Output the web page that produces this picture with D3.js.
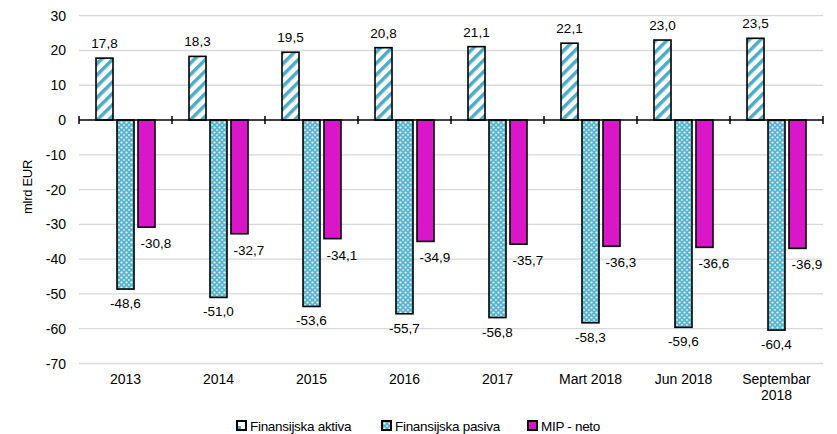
<!DOCTYPE html>
<html>
<head>
<meta charset="utf-8">
<script src="https://cdn.jsdelivr.net/npm/d3@7"></script>
<style>
  body { margin: 0; background: #fff; }
  svg { font-family: "Liberation Sans", Arial, sans-serif; }
</style>
</head>
<body>
<svg id="chart" width="837" height="434"></svg>
<script>
var categories = ["2013", "2014", "2015", "2016", "2017", "Mart 2018", "Jun 2018", "Septembar 2018"]
var aktiva = [17.8, 18.3, 19.5, 20.8, 21.1, 22.1, 23.0, 23.5]
var pasiva = [-48.6, -51.0, -53.6, -55.7, -56.8, -58.3, -59.6, -60.4]
var mip = [-30.8, -32.7, -34.1, -34.9, -35.7, -36.3, -36.6, -36.9]
var seriesNames = ["Finansijska aktiva", "Finansijska pasiva", "MIP - neto"]
var yTicks = [30, 20, 10, 0, -10, -20, -30, -40, -50, -60, -70]

var svg = d3.select("#chart")
var fmt = v => v.toFixed(1).replace(".", ",")

// patterns
var defs = svg.append("defs")
var pa = defs.append("pattern").attr("id", "stripes")
  .attr("patternUnits", "userSpaceOnUse").attr("width", 8).attr("height", 8)
  .attr("patternTransform", "rotate(45)")
pa.append("rect").attr("width", 8).attr("height", 8).attr("fill", "#fff")
pa.append("rect").attr("width", 3.5).attr("height", 8).attr("fill", "#4bacc6")

var pp = defs.append("pattern").attr("id", "dots")
  .attr("patternUnits", "userSpaceOnUse").attr("width", 5).attr("height", 5)
pp.append("rect").attr("width", 5).attr("height", 5).attr("fill", "#56b4cc")
pp.append("circle").attr("cx", 2.5).attr("cy", 2.5).attr("r", 1.1).attr("fill", "#fff")
pp.append("circle").attr("cx", 0).attr("cy", 0).attr("r", 0.9).attr("fill", "#d8f0f6")
pp.append("circle").attr("cx", 5).attr("cy", 0).attr("r", 0.9).attr("fill", "#d8f0f6")
pp.append("circle").attr("cx", 0).attr("cy", 5).attr("r", 0.9).attr("fill", "#d8f0f6")
pp.append("circle").attr("cx", 5).attr("cy", 5).attr("r", 0.9).attr("fill", "#d8f0f6")

var fills = ["url(#stripes)", "url(#dots)", "#d916c8"]

var x0 = d3.scaleBand().domain(categories).range([79, 823])
var x1 = d3.scaleBand().domain([0, 1, 2]).range([0, x0.bandwidth()])
  .paddingInner(0.19).paddingOuter(0.81)
var y = d3.scaleLinear().domain([-70, 30]).range([363.5, 15.7])

// grid
svg.append("g").selectAll("line").data(yTicks.filter(d => d !== 0)).join("line")
  .attr("x1", 79).attr("x2", 823)
  .attr("y1", d => y(d)).attr("y2", d => y(d))
  .attr("stroke", "#d9d9d9").attr("stroke-width", 1.3)

// y tick labels
svg.append("g").selectAll("text").data(yTicks).join("text")
  .attr("x", 66).attr("y", d => y(d) + 5)
  .attr("text-anchor", "end").attr("font-size", 14).attr("fill", "#000")
  .text(d => d < 0 ? "-" + Math.abs(d) : d)

svg.append("text")
  .attr("transform", "translate(32,187) rotate(-90)")
  .attr("text-anchor", "middle").attr("font-size", 13).attr("letter-spacing", -0.3)
  .text("mlrd EUR")

var data = categories.map((c, i) => ({ cat: c, vals: [aktiva[i], pasiva[i], mip[i]] }))

var groups = svg.append("g").selectAll("g").data(data).join("g")
  .attr("transform", d => `translate(${x0(d.cat)},0)`)

groups.selectAll("rect").data(d => d.vals.map((v, k) => ({ v: v, k: k }))).join("rect")
  .attr("x", d => x1(d.k))
  .attr("width", x1.bandwidth())
  .attr("y", d => y(Math.max(0, d.v)))
  .attr("height", d => Math.abs(y(d.v) - y(0)))
  .attr("fill", d => fills[d.k])
  .attr("stroke", "#000").attr("stroke-width", 1.6)

// value labels
groups.selectAll("text.lbl").data(d => d.vals.map((v, k) => ({ v: v, k: k }))).join("text")
  .attr("class", "lbl")
  .attr("font-size", 13.5).attr("text-anchor", "middle")
  .attr("x", d => d.k === 2 ? x1(d.k) + x1.bandwidth() + 1 : x1(d.k) + x1.bandwidth() / 2)
  .attr("y", d => d.k === 0 ? y(d.v) - 10 : (d.k === 1 ? y(d.v) + 19 : y(d.v) + 21))
  .text(d => fmt(d.v))

// zero axis
svg.append("line").attr("x1", 79).attr("x2", 823).attr("y1", y(0)).attr("y2", y(0))
  .attr("stroke", "#000").attr("stroke-width", 1.5)
var bounds = categories.map(c => x0(c)).concat([823])
svg.append("g").selectAll("line").data(bounds).join("line")
  .attr("x1", d => d).attr("x2", d => d)
  .attr("y1", y(0) - 4).attr("y2", y(0) + 4)
  .attr("stroke", "#000").attr("stroke-width", 1.5)

// x labels
var xl = svg.append("g").selectAll("text").data(categories).join("text")
  .attr("text-anchor", "middle").attr("font-size", 14)
  .attr("y", 384)
xl.each(function (c) {
  var t = d3.select(this)
  var cx = x0(c) + x0.bandwidth() / 2
  var parts = c.length > 10 ? c.split(" ") : [c]
  parts.forEach((p, i) => t.append("tspan").attr("x", cx).attr("dy", i === 0 ? 0 : 16).text(p))
})

// legend
var legX = [237, 382, 528]
var leg = svg.append("g").selectAll("g").data(seriesNames).join("g")
  .attr("transform", (d, i) => `translate(${legX[i]},421)`)
leg.append("rect").attr("width", 9).attr("height", 9)
  .attr("fill", (d, i) => i === 0 ? "#fff" : fills[i])
  .attr("stroke", "#000").attr("stroke-width", 2)
leg.filter((d, i) => i === 0).append("rect")
  .attr("x", 1).attr("y", 5).attr("width", 3).attr("height", 3).attr("fill", "#4bacc6")
leg.append("text").attr("x", 13).attr("y", 10)
  .attr("font-size", 13.5).attr("letter-spacing", -0.3)
  .text(d => d)
</script>
</body>
</html>
